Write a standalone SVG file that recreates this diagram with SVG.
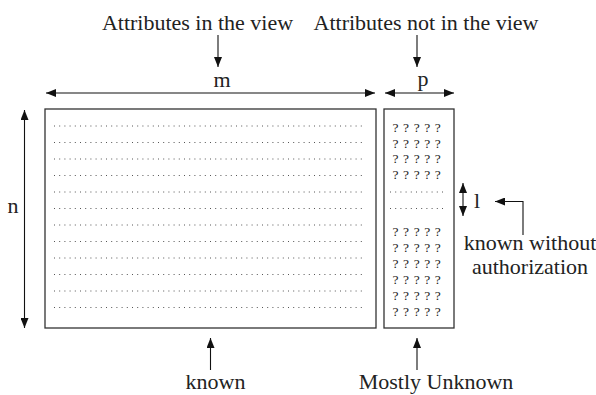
<svg xmlns="http://www.w3.org/2000/svg" width="596" height="395" viewBox="0 0 596 395">
<defs>
<marker id="ah" viewBox="0 0 10 8" refX="10" refY="4" markerWidth="10" markerHeight="8" markerUnits="userSpaceOnUse" orient="auto-start-reverse">
<path d="M0,0 L10,4 L0,8 z" fill="#111"/>
</marker>
</defs>
<style>
text{font-family:"Liberation Serif","Times New Roman",serif;font-size:22px;fill:#222}
.q text{font-size:13.5px;fill:#222;letter-spacing:4.6px}
.c{text-anchor:middle}
.box{fill:#fff;stroke:#333;stroke-width:1.3}
.ln{stroke:#111;stroke-width:1.1;fill:none}
.dot{stroke:#555;stroke-width:1;stroke-dasharray:1 4.2}
</style>
<g id="labels">
<text class="c" x="197.5" y="30">Attributes in the view</text>
<text class="c" x="426" y="30">Attributes not in the view</text>
<text class="c" x="222" y="87">m</text>
<text class="c" x="423" y="86">p</text>
<text class="c" x="13" y="213">n</text>
<text x="474" y="208">l</text>
<text class="c" x="530" y="250">known without</text>
<text class="c" x="530" y="274">authorization</text>
<text class="c" x="215.5" y="389">known</text>
<text class="c" x="436" y="389">Mostly Unknown</text>
</g>
<g id="view-box">
<rect class="box" x="45" y="109" width="331" height="219"/>
<g class="dot">
<line x1="54" y1="126" x2="366" y2="126"/>
<line x1="54" y1="142.5" x2="366" y2="142.5"/>
<line x1="54" y1="159" x2="366" y2="159"/>
<line x1="54" y1="175.5" x2="366" y2="175.5"/>
<line x1="54" y1="192" x2="366" y2="192"/>
<line x1="54" y1="208.5" x2="366" y2="208.5"/>
<line x1="54" y1="225" x2="366" y2="225"/>
<line x1="54" y1="241.5" x2="366" y2="241.5"/>
<line x1="54" y1="258" x2="366" y2="258"/>
<line x1="54" y1="274.5" x2="366" y2="274.5"/>
<line x1="54" y1="291" x2="366" y2="291"/>
<line x1="54" y1="307.5" x2="366" y2="307.5"/>
</g>
</g>
<g id="hidden-box">
<rect class="box" x="384" y="109" width="70" height="219"/>
<g class="dot">
<line x1="390" y1="192" x2="447" y2="192"/>
<line x1="390" y1="208.5" x2="447" y2="208.5"/>
</g>
<g class="q">
<text x="392.5" y="132">?????</text>
<text x="392.5" y="147.5">?????</text>
<text x="392.5" y="163">?????</text>
<text x="392.5" y="178.5">?????</text>
<text x="392.5" y="236">?????</text>
<text x="392.5" y="252">?????</text>
<text x="392.5" y="268">?????</text>
<text x="392.5" y="284">?????</text>
<text x="392.5" y="300">?????</text>
<text x="392.5" y="316">?????</text>
</g>
</g>
<g id="connectors">
<line class="ln" x1="218" y1="35" x2="218" y2="67" marker-end="url(#ah)"/>
<line class="ln" x1="417" y1="35" x2="417" y2="67" marker-end="url(#ah)"/>
<line class="ln" x1="46" y1="93" x2="375" y2="93" marker-start="url(#ah)" marker-end="url(#ah)"/>
<line class="ln" x1="385" y1="93" x2="454" y2="93" marker-start="url(#ah)" marker-end="url(#ah)"/>
<line class="ln" x1="24.5" y1="110" x2="24.5" y2="328" marker-start="url(#ah)" marker-end="url(#ah)"/>
<line class="ln" x1="463" y1="183" x2="463" y2="216" marker-start="url(#ah)" marker-end="url(#ah)"/>
<polyline class="ln" points="523,235 523,201.5 495,201.5" marker-end="url(#ah)"/>
<line class="ln" x1="210.5" y1="370" x2="210.5" y2="338" marker-end="url(#ah)"/>
<line class="ln" x1="417" y1="370" x2="417" y2="338" marker-end="url(#ah)"/>
</g>
</svg>
